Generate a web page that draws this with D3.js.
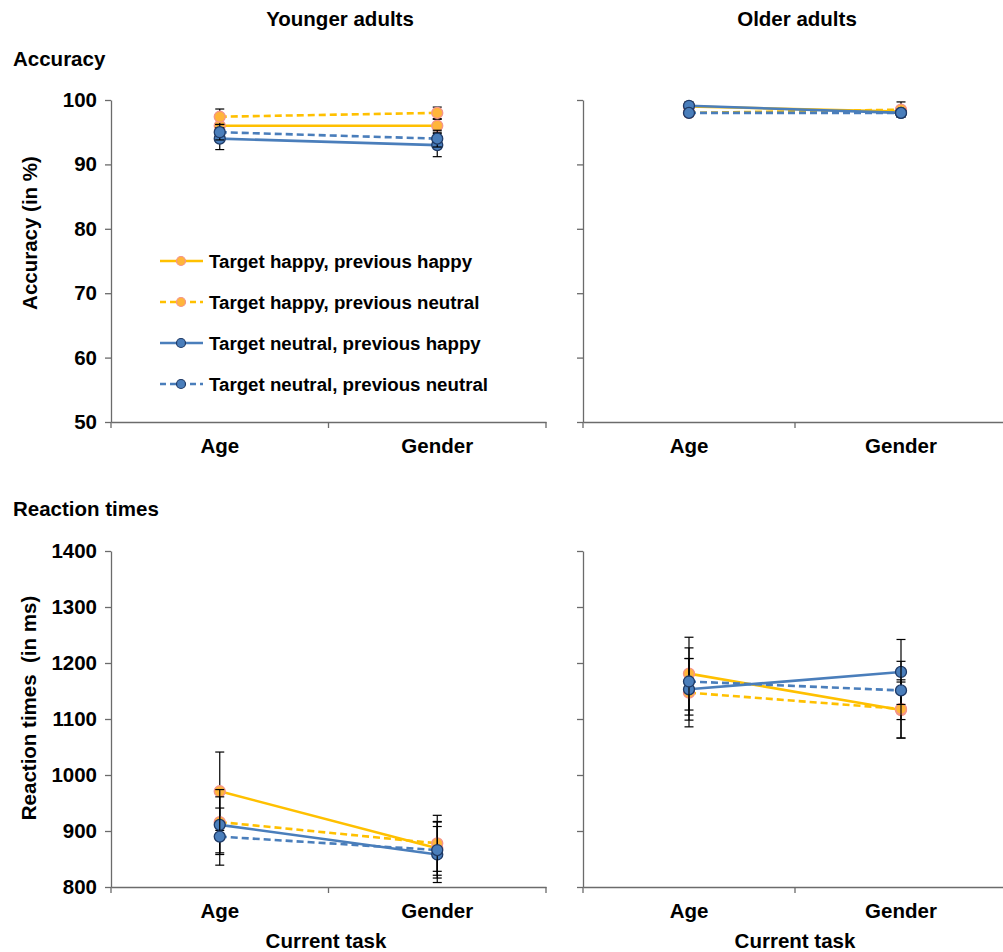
<!DOCTYPE html>
<html>
<head>
<meta charset="utf-8">
<script src="https://cdn.jsdelivr.net/npm/d3@7/dist/d3.min.js"></script>
<style>
  html, body { margin: 0; padding: 0; background: #fff; }
  svg text { font-family: "Liberation Sans", Arial, sans-serif; font-weight: bold; fill: #000; }
</style>
</head>
<body>
<svg id="chart" width="1003" height="952"></svg>
<script>
// ---------- data ----------
const categories = ["Age", "Gender"];
const seriesNames = [
  "Target happy, previous happy",
  "Target happy, previous neutral",
  "Target neutral, previous happy",
  "Target neutral, previous neutral"
];
const accTicks = [50, 60, 70, 80, 90, 100];
const rtTicks = [800, 900, 1000, 1100, 1200, 1300, 1400];

// Accuracy (%), younger adults: [Age, Gender] per series
const accYoung = [[96.0, 96.0], [97.4, 98.0], [94.0, 93.0], [95.0, 94.0]];
const accYoungErr = [[1.0, 1.0], [1.2, 0.9], [1.7, 1.8], [1.2, 1.3]];
// Accuracy (%), older adults
const accOld = [[99.0, 98.2], [98.0, 98.5], [99.1, 98.0], [98.0, 98.0]];
const accOldErr = [[0.5, 0.6], [0.5, 1.2], [0.6, 0.5], [0.5, 0.5]];
// Reaction times (ms), younger adults
const rtYoung = [[971, 869], [916, 878], [911, 858], [890, 866]];
const rtYoungErr = [[70, 48], [58, 50], [50, 50], [51, 50]];
// Reaction times (ms), older adults
const rtOld = [[1181, 1116], [1147, 1118], [1153, 1184], [1167, 1151]];
const rtOldErr = [[65, 50], [61, 52], [55, 58], [60, 52]];

// ---------- styles ----------
const lineColors = ["#FFC000", "#FFC000", "#4A7EBB", "#4A7EBB"];
const dashes = [null, "7,4", null, "7,4"];
const markFill = ["#FFB53A", "#FFB53A", "#4A7EBB", "#4A7EBB"];
const markStroke = ["#F4948A", "#F4948A", "#1F3A66", "#1F3A66"];
const FS = 20.5;

const svg = d3.select("#chart");

const panels = [
  { vals: accYoung, err: accYoungErr, x0: 111, x1: 546, top: 100, bot: 422, dom: [50, 100], ticks: accTicks, labels: true },
  { vals: accOld, err: accOldErr, x0: 583, x1: 1007, top: 100, bot: 422, dom: [50, 100], ticks: accTicks, labels: false },
  { vals: rtYoung, err: rtYoungErr, x0: 111, x1: 546, top: 551, bot: 887, dom: [800, 1400], ticks: rtTicks, labels: true },
  { vals: rtOld, err: rtOldErr, x0: 583, x1: 1007, top: 551, bot: 887, dom: [800, 1400], ticks: rtTicks, labels: false }
];

const axisColor = "#6b6b6b";

panels.forEach(p => {
  const x = d3.scaleBand().domain(categories).range([p.x0, p.x1]).padding(0);
  const y = d3.scaleLinear().domain(p.dom).range([p.bot, p.top]);
  const cx = c => x(c) + x.bandwidth() / 2;

  // y axis
  const ya = svg.append("g").attr("transform", `translate(${p.x0},0)`)
    .call(d3.axisLeft(y).tickValues(p.ticks).tickSize(6).tickSizeOuter(0).tickPadding(8)
      .tickFormat(p.labels ? d3.format("d") : () => ""));
  ya.selectAll("path, line").attr("stroke", axisColor).attr("stroke-width", 1.3);
  ya.selectAll("text").style("font-size", FS + "px");

  // x axis
  const xa = svg.append("g").attr("transform", `translate(0,${p.bot})`)
    .call(d3.axisBottom(x).tickSize(0).tickSizeOuter(0).tickPadding(16));
  xa.select("path").attr("stroke", axisColor).attr("stroke-width", 1.3);
  xa.selectAll("text").style("font-size", FS + "px");
  const bounds = [x("Age"), x("Gender"), x("Gender") + x.bandwidth()];
  svg.append("g").selectAll("line").data(bounds).join("line")
    .attr("x1", d => d).attr("x2", d => d)
    .attr("y1", p.bot).attr("y2", p.bot + 6)
    .attr("stroke", axisColor).attr("stroke-width", 1.3);

  // series
  p.vals.forEach((vals, si) => {
    const g = svg.append("g");
    const pts = categories.map((c, ci) => ({ c, v: vals[ci], e: p.err[si][ci] }));
    // error bars
    pts.forEach(d => {
      const X = cx(d.c);
      g.append("line").attr("x1", X).attr("x2", X)
        .attr("y1", y(d.v - d.e)).attr("y2", y(d.v + d.e))
        .attr("stroke", "#000").attr("stroke-width", 1.2);
      [d.v - d.e, d.v + d.e].forEach(v => {
        g.append("line").attr("x1", X - 4.5).attr("x2", X + 4.5)
          .attr("y1", y(v)).attr("y2", y(v))
          .attr("stroke", "#000").attr("stroke-width", 1.2);
      });
    });
    g.append("path").datum(pts)
      .attr("d", d3.line().x(d => cx(d.c)).y(d => y(d.v)))
      .attr("fill", "none").attr("stroke", lineColors[si]).attr("stroke-width", 2.6)
      .attr("stroke-dasharray", dashes[si]);
    g.selectAll("circle").data(pts).join("circle")
      .attr("cx", d => cx(d.c)).attr("cy", d => y(d.v)).attr("r", 5.5)
      .attr("fill", markFill[si]).attr("stroke", markStroke[si]).attr("stroke-width", 1.3);
  });
});

// ---------- legend ----------
const legY = [261, 302, 343, 384];
seriesNames.forEach((name, i) => {
  const g = svg.append("g");
  g.append("line").attr("x1", 160).attr("x2", 203).attr("y1", legY[i]).attr("y2", legY[i])
    .attr("stroke", lineColors[i]).attr("stroke-width", 2.6).attr("stroke-dasharray", dashes[i] ? "6,4" : null);
  g.append("circle").attr("cx", 181).attr("cy", legY[i]).attr("r", 4.5)
    .attr("fill", markFill[i]).attr("stroke", markStroke[i]).attr("stroke-width", 1.2);
  g.append("text").attr("x", 209).attr("y", legY[i] + 6.5).style("font-size", "18.7px").text(name);
});

// ---------- titles ----------
function label(txt, x, y, size, anchor, rot) {
  const t = svg.append("text").attr("x", x).attr("y", y).style("font-size", size + "px")
    .attr("text-anchor", anchor).text(txt);
  if (rot) t.attr("transform", `rotate(-90,${x},${y})`);
  return t;
}
label("Younger adults", 340, 26, FS, "middle");
label("Older adults", 797, 26, FS, "middle");
label("Accuracy", 13, 66, FS, "start");
label("Reaction times", 13, 516, FS, "start");
label("Accuracy (in %)", 37, 233, FS, "middle", true);
label("Reaction times  (in ms)", 36, 708, FS, "middle", true).style("white-space", "pre");
label("Current task", 326, 948, FS, "middle");
label("Current task", 795, 948, FS, "middle");
</script>
</body>
</html>
